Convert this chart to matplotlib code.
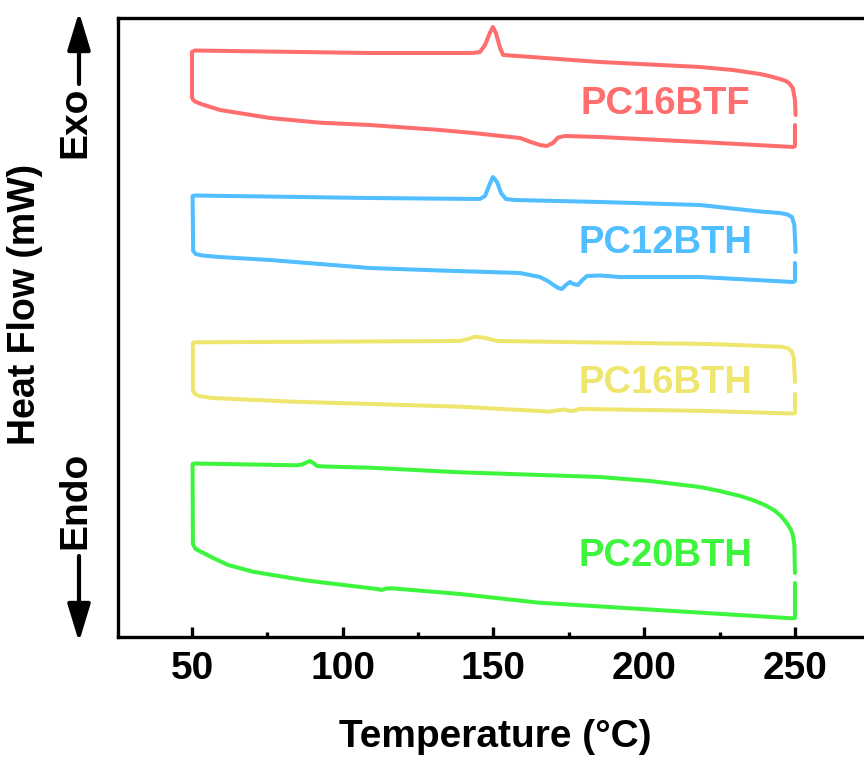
import numpy as np
import matplotlib
matplotlib.use('Agg')
import matplotlib.pyplot as plt
from matplotlib.ticker import MultipleLocator
from matplotlib.patches import FancyArrowPatch

plt.rcParams['font.family'] = ['Liberation Sans', 'DejaVu Sans']
plt.rcParams['font.weight'] = 'bold'

# --- data: each loop is one path (heating trace, 50 °C hold, cooling trace), gap at 250 °C ---
samples = ['PC16BTF', 'PC12BTH', 'PC16BTH', 'PC20BTH']
colors = ['#FF6E6E', '#50BEFF', '#EEE66E', '#3EF53E']

t_16btf = [250.0, 250.0, 249.5, 218.5, 185.3, 173.7, 171.4, 169.7, 167.7, 165.4, 162.1, 158.8,
           143.2, 132.3, 109.0, 92.5, 75.9, 59.3, 53.0, 51.0, 50.3, 50.0, 50.0, 51.0, 109.0,
           132.3, 143.2, 145.5, 147.2, 148.8, 149.8, 150.8, 152.2, 153.2, 158.0, 185.3, 218.5,
           229.4, 238.4, 242.0, 245.0, 247.0, 248.0, 249.3, 250.0, 250.2]
hf_16btf = [51.2, 49.1, 49.0, 49.5, 50.0, 50.1, 49.95, 49.4, 49.1, 49.2, 49.53, 49.9,
            50.4, 50.7, 51.2, 51.43, 51.9, 52.7, 53.3, 53.55, 53.75, 54.0, 58.5, 58.65, 58.4,
            58.4, 58.4, 58.5, 59.2, 60.4, 61.0, 60.4, 58.9, 58.2, 58.1, 57.5, 57.0,
            56.7, 56.3, 56.05, 55.8, 55.6, 55.4, 54.9, 53.7, 52.2]

t_12bth = [250.0, 250.0, 249.3, 218.5, 191.9, 185.3, 181.0, 179.5, 178.0, 176.5, 175.4, 174.0,
           172.7, 171.5, 170.4, 168.0, 165.4, 158.8, 132.3, 109.0, 75.9, 59.0, 53.5, 51.2,
           50.4, 50.2, 51.0, 109.0, 145.5, 147.2, 148.5, 149.8, 151.2, 152.5, 154.1, 157.1,
           185.3, 218.5, 238.4, 245.0, 247.5, 249.0, 249.8, 250.2]
hf_12bth = [37.4, 35.6, 35.5, 36.0, 36.0, 36.15, 36.1, 35.7, 35.2, 35.3, 35.5, 35.2,
            34.8, 34.9, 35.1, 35.6, 36.0, 36.4, 36.65, 36.9, 37.7, 38.0, 38.15, 38.3,
            38.6, 44.1, 44.15, 43.9, 43.8, 44.1, 45.1, 46.0, 45.5, 44.4, 43.8, 43.7,
            43.5, 43.2, 42.55, 42.4, 42.25, 42.0, 41.2, 38.5]

t_16bth = [250.0, 250.0, 249.0, 221.5, 180.3, 178.4, 177.0, 175.4, 173.4, 171.0, 168.1, 165.0,
           138.9, 83.8, 56.5, 52.5, 51.0, 50.3, 50.3, 51.0, 138.9, 141.5, 143.9, 146.5, 151.5,
           180.3, 221.5, 245.0, 247.5, 248.8, 249.6, 250.0]
hf_16bth = [24.3, 22.4, 22.35, 22.6, 22.8, 22.8, 22.65, 22.6, 22.75, 22.65, 22.53, 22.6,
            23.03, 23.53, 23.9, 24.1, 24.3, 24.7, 29.4, 29.47, 29.6, 29.8, 30.03, 29.95, 29.6,
            29.47, 29.3, 29.03, 28.9, 28.6, 28.0, 25.5]

t_20bth = [250.0, 250.0, 249.0, 213.5, 165.1, 138.9, 116.3, 114.5, 113.0, 111.4, 94.8, 86.8,
           70.2, 62.0, 57.0, 53.5, 51.2, 50.3, 50.2, 51.0, 84.7, 86.5, 89.1, 90.5, 91.5, 94.0,
           109.0, 138.9, 185.3, 201.9, 218.5, 225.0, 231.8, 236.0, 240.0, 243.0, 245.0, 246.5,
           247.7, 248.7, 249.3, 249.8, 250.0]
hf_20bth = [5.4, 1.9, 1.87, 2.53, 3.43, 4.3, 4.87, 4.85, 4.7, 4.8, 5.4, 5.7,
            6.53, 7.2, 7.9, 8.45, 8.8, 9.3, 17.3, 17.35, 17.17, 17.25, 17.6, 17.35, 17.1, 17.05,
            16.93, 16.47, 16.0, 15.6, 15.0, 14.6, 14.1, 13.7, 13.2, 12.7, 12.2, 11.7,
            11.2, 10.7, 10.2, 9.2, 6.4]

label_t = [206.9, 206.9, 206.9, 206.9]
label_hf = [52.3, 38.4, 24.4, 7.1]

temps = [t_16btf, t_12bth, t_16bth, t_20bth]
flows = [hf_16btf, hf_12bth, hf_16bth, hf_20bth]

fig = plt.figure(figsize=(8.64, 7.6), dpi=100)
ax = fig.add_axes([118/864, 123/760, 1 - 118/864, 619/760])

for t, hf, c, name, lt, lh in zip(temps, flows, colors, samples, label_t, label_hf):
    ax.plot(t, hf, color=c, lw=2.9, solid_joinstyle='round', solid_capstyle='round')
    ax.text(lt, lh, name, color=c, fontsize=27.5, fontweight='bold', ha='center', va='baseline')

ax.set_xlim(25.46, 272.9)
ax.set_ylim(0, 61.9)
ax.spines['right'].set_visible(False)
for s in ['left', 'top', 'bottom']:
    ax.spines[s].set_linewidth(2.4)
ax.set_yticks([])
ax.xaxis.set_major_locator(MultipleLocator(50))
ax.xaxis.set_minor_locator(MultipleLocator(25))
ax.tick_params(axis='x', which='major', direction='in', length=7, width=2.4,
               labelsize=28, pad=10)
ax.tick_params(axis='x', which='minor', direction='in', length=3.5, width=2.4)
for lab in ax.get_xticklabels():
    lab.set_fontweight('bold')

fig.text(495.5/864, 1 - 737/760, 'Temperature (°C)', fontsize=28, fontweight='bold',
         ha='center', va='center')
fig.text(25/864, 1 - 304/760, 'Heat Flow (mW)', fontsize=27, fontweight='bold',
         ha='center', va='center', rotation=90)
fig.text(75/864, 1 - 122/760, 'Exo', fontsize=28, fontweight='bold',
         ha='center', va='center', rotation=90)
fig.text(75/864, 1 - 500/760, 'Endo', fontsize=28, fontweight='bold',
         ha='center', va='center', rotation=90)

arrow_kw = dict(transform=fig.transFigure, arrowstyle='-|>,head_length=2.3,head_width=0.7',
                mutation_scale=10, lw=3, color='black', shrinkA=0, shrinkB=0)
fig.add_artist(FancyArrowPatch((79/864, 1 - 84/760), (79/864, 1 - 12/760), **arrow_kw))
fig.add_artist(FancyArrowPatch((79/864, 1 - 556/760), (79/864, 1 - 642/760), **arrow_kw))

fig.savefig('out.png', dpi=100)
